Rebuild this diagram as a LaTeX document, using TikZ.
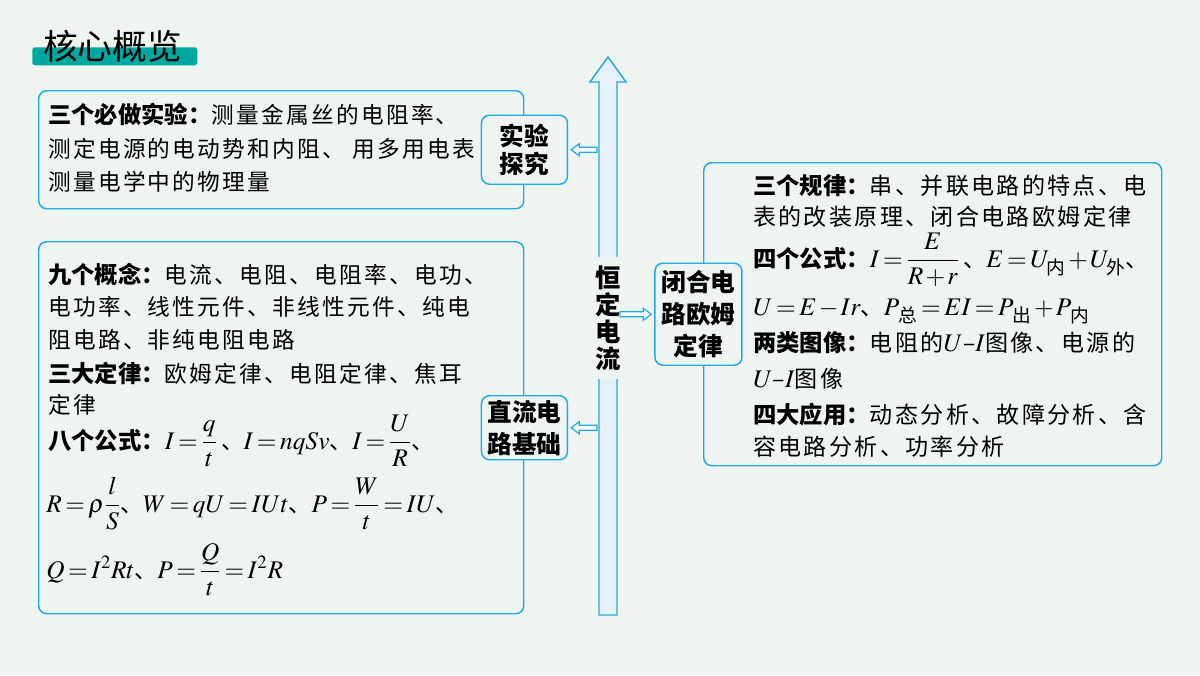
\RequirePackage{fix-cm}
\documentclass[tikz,border=0pt]{standalone}
\usepackage{amsmath}
\usepackage{mathptmx}
\usepackage{fontspec}
\setmainfont{Noto Sans CJK SC}
\newfontfamily\kai[LetterSpace=10]{Noto Sans CJK SC}
\usepackage{tikz}
\usetikzlibrary{calc}

\definecolor{bgc}{RGB}{238,245,240}
\definecolor{linec}{RGB}{32,170,230}
\definecolor{titlec}{RGB}{0,168,162}
\definecolor{shaftc}{RGB}{232,241,250}

\newcommand{\lab}[1]{{\rmfamily\bfseries\fontsize{17.5}{20}\selectfont #1}}
\newcommand{\fm}[1]{{\fontsize{19}{22}\selectfont$\thickmuskip=2.5mu\medmuskip=1.5mu #1$}}

\begin{document}
\begin{tikzpicture}
		[x=0.75pt, y=-0.75pt,
		panel/.style={draw=linec, line width=1.1pt, rounded corners=6pt, anchor=north west, inner sep=0pt},
		tag/.style={draw=linec, line width=1.1pt, rounded corners=6pt, fill=bgc, align=center, inner sep=0pt, font=\fontsize{18.5}{24}\bfseries},
		row/.style={anchor=base west, inner sep=0pt, font=\fontsize{#1}{20}\kai},
		row/.default=17,
		harrow/.style={draw=linec, fill=white, line width=0.9pt, to path={
			($(\tikztostart)+(0,-2.5)$) -- ($(\tikztotarget)+(#1*11,-2.5)$) -- ($(\tikztotarget)+(#1*11,-6)$)
			-- ($(\tikztotarget)+(#1*3,0)$) -- ($(\tikztotarget)+(#1*11,6)$) -- ($(\tikztotarget)+(#1*11,2.5)$)
			-- ($(\tikztostart)+(0,2.5)$) -- cycle}}]
		\fill[bgc] (0,0) rectangle (1200,675);

		% title
		\node[fill=titlec, rounded corners=2pt, anchor=north west, inner sep=0pt, minimum width=123.75pt, minimum height=13.5pt] (bar) at (32,47) {};
		\node[anchor=west, inner sep=0pt, font=\fontsize{26}{30}\selectfont] (title) at (43,46) {核心概览};

		% main axis
		\draw[draw=linec, fill=shaftc, line width=1.1pt] (599,615) -- (599,82) -- (590,82) -- (608,57) -- (626,82) -- (617,82) -- (617,615) -- cycle;
		\node[fill=bgc, inner xsep=1pt, inner ysep=6pt, align=center, font=\fontsize{19}{20.3}\bfseries] (core) at (608,318) {恒\\定\\电\\流};
		\coordinate (spineL) at (597,0);
		\coordinate (spineR) at (620,0);

		% panels
		\node[panel, minimum width=363.75pt, minimum height=88.5pt] (expbox) at (38,90) {};
		\node[panel, minimum width=363.75pt, minimum height=279pt] (dcbox) at (38,241) {};
		\node[panel, minimum width=343.5pt, minimum height=227.25pt] (clbox) at (703,162) {};

		\node[tag, minimum width=64.5pt, minimum height=51.75pt, font=\fontsize{18.5}{20.5}\bfseries] (expt) at (expbox.east) {实验\\探究};
		\node[tag, minimum width=64.5pt, minimum height=48pt] (dct) at (dcbox.east) {直流电\\路基础};
		\node[tag, minimum width=65.25pt, minimum height=76.5pt, xshift=-3.4pt] (clt) at (clbox.west) {闭合电\\路欧姆\\定律};

		\draw[harrow=1] (spineL |- expt.east) to (expt.east);
		\draw[harrow=1] (spineL |- dct.east) to (dct.east);
		\draw[harrow=-1] (spineR |- clt.west) to (clt.west);

		% experiments
		\node[row] (ex1) at (48,123) {\lab{三个必做实验：}测量金属丝的电阻率、};
		\node[row] (ex2) at (48,157) {测定电源的电动势和内阻、 用多用电表};
		\node[row] (ex3) at (48,190) {测量电学中的物理量};

		% basics
		\node[row] (dc1) at (48,283) {\lab{九个概念：}电流、电阻、电阻率、电功、};
		\node[row] (dc2) at (48,315) {电功率、线性元件、非线性元件、纯电};
		\node[row] (dc3) at (48,348) {阻电路、非纯电阻电路};
		\node[row] (dc4) at (48,382) {\lab{三大定律：}欧姆定律、电阻定律、焦耳};
		\node[row] (dc5) at (48,413) {定律};
		\node[row] (dc6) at (48,449) {\lab{八个公式：}\fm{I=\dfrac{q}{t}}\,、\fm{I=nqSv}、\fm{I=\dfrac{U}{R}}、};
		\node[row] (dc7) at (46,512) {\fm{R=\rho\dfrac{l}{S}}、\fm{W=qU=IUt}、\fm{P=\dfrac{W}{t}=IU}、};
		\node[row] (dc8) at (46,578) {\fm{Q=I^2Rt}、\fm{P=\dfrac{Q}{t}=I^2R}};

		% closed circuit
		\node[row=17.3] (cl1) at (753,194) {\lab{三个规律：}串、并联电路的特点、电};
		\node[row=17.3] (cl2) at (753,225) {表的改装原理、闭合电路欧姆定律};
		\node[row=17.3] (cl3) at (753,267) {\lab{四个公式：}\fm{I=\dfrac{E}{R+r}}\,、\fm{E=U_{\text{内}}+U_{\text{外}}}、};
		\node[row=17.3] (cl4) at (753,315) {\fm{U=E-Ir}、\fm{P_{\,\text{总}}=EI=P_{\,\text{出}}+P_{\,\text{内}}}};
		\node[row=17.3] (cl5) at (753,351) {\lab{两类图像：}电阻的\fm{U}–\fm{I}图像、电源的};
		\node[row=17.3] (cl6) at (753,387) {\fm{U}–\fm{I}图像};
		\node[row=17.3] (cl7) at (753,423) {\lab{四大应用：}动态分析、故障分析、含};
		\node[row=17.3] (cl8) at (753,455) {容电路分析、功率分析};
	\end{tikzpicture}
\end{document}
